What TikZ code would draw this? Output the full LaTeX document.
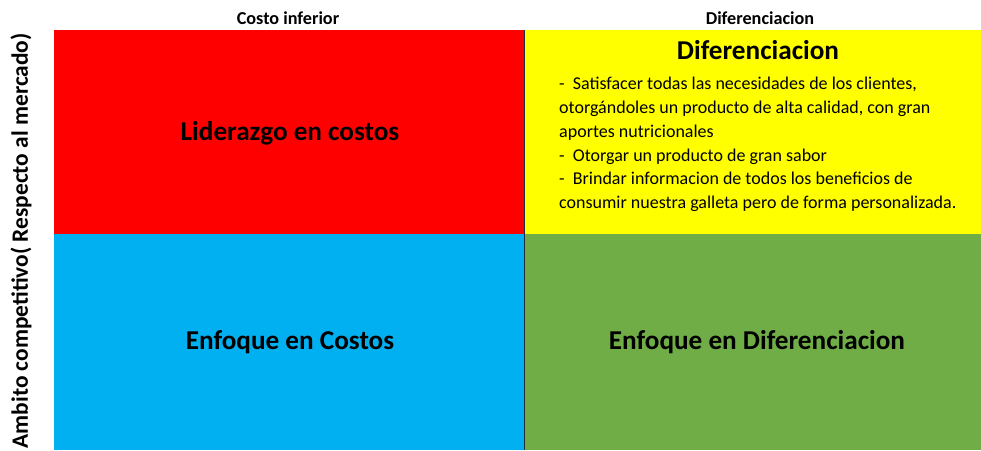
\documentclass[tikz,border=0pt]{standalone}
\usepackage{fontspec}
\setmainfont{Carlito}
\definecolor{qred}{HTML}{FF0000}
\definecolor{qyellow}{HTML}{FFFF00}
\definecolor{qblue}{HTML}{00B0F0}
\definecolor{qgreen}{HTML}{70AD47}
\definecolor{qline}{HTML}{1F2A44}
\begin{document}
\begin{tikzpicture}[x=1pt,y=-1pt,
  big/.style={font=\fontsize{27.2}{32}\selectfont\bfseries},
  head/.style={font=\fontsize{18.2}{21}\selectfont\bfseries},
  body/.style={font=\fontsize{18}{23.8}\selectfont,align=left,anchor=north west,inner sep=0pt}]
\useasboundingbox (0,0) rectangle (981,450);
\fill[white] (0,0) rectangle (981,450);
% quadrants
\fill[qred] (54,30) rectangle (524.5,233.5);
\fill[qyellow] (524.5,30) rectangle (981,233.5);
\fill[qblue] (54,233.5) rectangle (524.5,450);
\fill[qgreen] (524.5,233.5) rectangle (981,450);
\coordinate (mtop) at (524.5,30);
\coordinate (mbot) at (524.5,450);
\draw[qline,line width=1.2pt] (mtop) -- (mbot);
% top headings
\node[head] (h1) at (288,18) {Costo inferior};
\node[head] (h2) at (760,18) {Diferenciacion};
% side label
\node[font=\fontsize{23.4}{28}\selectfont\bfseries,rotate=90] (side) at (21,241) {Ambito competitivo( Respecto al mercado)};
% quadrant labels
\node[big] (q1) at (290,133) {Liderazgo en costos};
\node[big] (q3) at (290,342) {Enfoque en Costos};
\node[big] (q4) at (757,342) {Enfoque en Diferenciacion};
\node[big] (q2) at (758,50) {Diferenciacion};
\node[body] (txt) at (559,77) {-\ \ Satisfacer todas las necesidades de los clientes,\\
otorgándoles un producto de alta calidad, con gran\\
aportes nutricionales\\
-\ \ Otorgar un producto de gran sabor\\
-\ \ Brindar informacion de todos los beneficios de\\
consumir nuestra galleta pero de forma personalizada.};
\end{tikzpicture}
\end{document}
